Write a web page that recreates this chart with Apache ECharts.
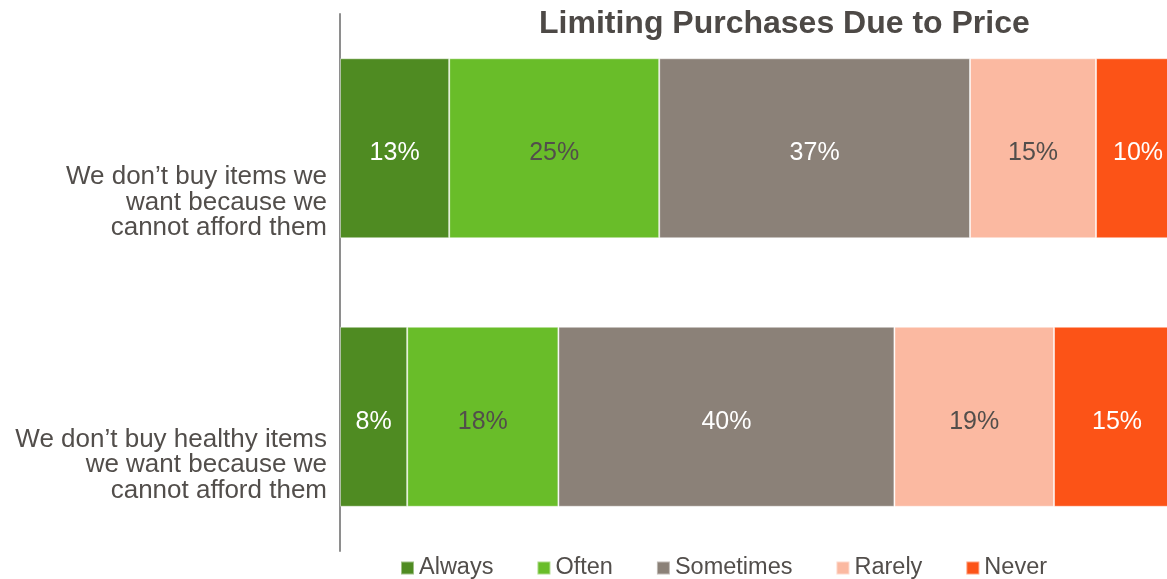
<!DOCTYPE html>
<html>
<head>
<meta charset="utf-8">
<script src="https://cdn.jsdelivr.net/npm/echarts@6/dist/echarts.min.js"></script>
<style>
  html, body { margin: 0; padding: 0; background: #ffffff; overflow: hidden; }
  #chart { width: 1167px; height: 579px; }
</style>
</head>
<body>
<div id="chart"></div>
<script>
// Survey statements (top to bottom)
const categories = [
  'We don\u2019t buy items we\nwant because we\ncannot afford them',
  'We don\u2019t buy healthy items\nwe want because we\ncannot afford them'
];

// Response shares, percent, one value per statement
const always    = [13, 8];
const often     = [25, 18];
const sometimes = [37, 40];
const rarely    = [15, 19];
const never     = [10, 15];

const seriesNames  = ['Always', 'Often', 'Sometimes', 'Rarely', 'Never'];
const seriesData   = [always, often, sometimes, rarely, never];
const seriesColors = ['#4f8b22', '#69bd29', '#8b8178', '#fbb9a1', '#fc5317'];
const labelColors  = ['#ffffff', '#524e4b', '#ffffff', '#524e4b', '#ffffff'];

const textColor = '#524e4b';
const fontFamily = '"Liberation Sans", Arial, sans-serif';

const chart = echarts.init(document.getElementById('chart'));

chart.setOption({
  backgroundColor: '#ffffff',
  animation: false,
  textStyle: { fontFamily: fontFamily },
  title: {
    text: 'Limiting Purchases Due to Price',
    left: 539,
    top: 8,
    padding: 0,
    textStyle: {
      fontFamily: fontFamily,
      fontSize: 32,
      fontWeight: 'bold',
      color: '#4d4946'
    }
  },
  legend: {
    data: seriesNames,
    left: 400,
    top: 556,
    padding: 0,
    itemWidth: 13,
    itemHeight: 13,
    itemGap: 43,
    icon: 'rect',
    textStyle: {
      fontFamily: fontFamily,
      fontSize: 23.5,
      color: textColor
    }
  },
  grid: {
    left: 340,
    right: 0,
    top: 14,
    bottom: 28,
    containLabel: false
  },
  // the full 100% reaches a little past the right edge of the page
  xAxis: {
    type: 'value',
    min: 0,
    max: 98.45,
    show: false
  },
  yAxis: {
    type: 'category',
    data: categories,
    inverse: true,
    axisLine: { show: true, lineStyle: { color: '#8e8e8e', width: 2 } },
    axisTick: { show: false },
    axisLabel: {
      margin: 13,
      fontFamily: fontFamily,
      fontSize: 26,
      lineHeight: 25.5,
      color: textColor,
      align: 'right',
      // statement text sits below the middle of its bar
      formatter: (value, index) => '{sp' + index + '|}\n' + value,
      rich: {
        sp0: { height: 109, lineHeight: 109 },
        sp1: { height: 97, lineHeight: 97 }
      }
    }
  },
  series: seriesNames.map((name, i) => ({
    name: name,
    type: 'bar',
    stack: 'total',
    barWidth: 180,
    clip: false,
    data: seriesData[i],
    itemStyle: {
      color: seriesColors[i],
      borderColor: 'rgba(255,255,255,0.45)',
      borderWidth: 1
    },
    label: {
      show: true,
      position: 'inside',
      formatter: '{c}%',
      offset: [0, 5],
      fontFamily: fontFamily,
      fontSize: 25,
      color: labelColors[i]
    }
  }))
});
</script>
</body>
</html>
